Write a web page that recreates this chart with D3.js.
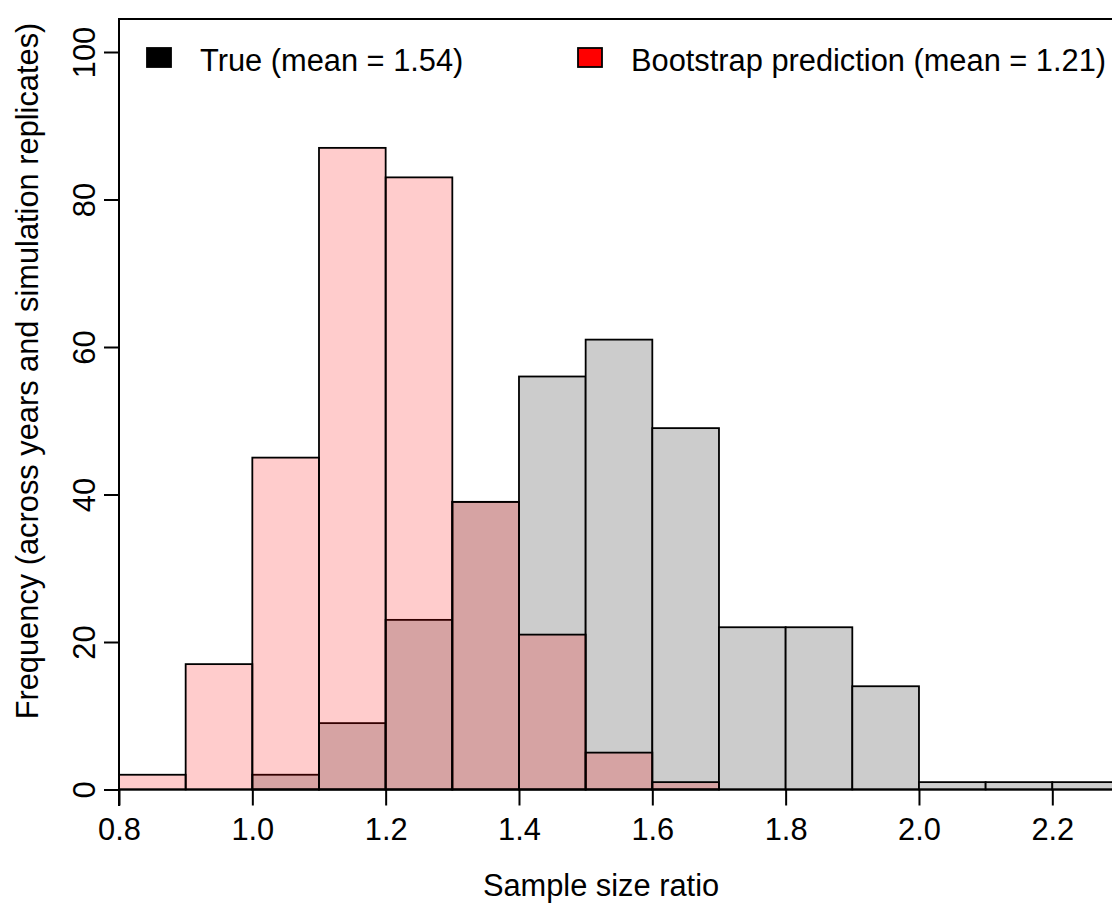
<!DOCTYPE html>
<html>
<head>
<meta charset="utf-8">
<script src="https://cdn.jsdelivr.net/npm/d3@7"></script>
<style>
  body { margin: 0; background: #fff; }
  svg { display: block; font-family: "Liberation Sans", Arial, sans-serif; }
</style>
</head>
<body>
<div id="chart"></div>
<script>
// histogram bins (left edges), width 0.1
const binStarts = [0.8, 0.9, 1.0, 1.1, 1.2, 1.3, 1.4, 1.5, 1.6, 1.7, 1.8, 1.9, 2.0, 2.1, 2.2];
const trueCounts = [0, 0, 2, 9, 23, 39, 56, 61, 49, 22, 22, 14, 1, 1, 1];
const bootCounts = [2, 17, 45, 87, 83, 39, 21, 5, 1, 0, 0, 0, 0, 0, 0];
const binWidth = 0.1;

const xTicks = [0.8, 1.0, 1.2, 1.4, 1.6, 1.8, 2.0, 2.2];
const yTicks = [0, 20, 40, 60, 80, 100];
const legendLabels = ["True (mean = 1.54)", "Bootstrap prediction (mean = 1.21)"];
const legendFills = ["#000000", "#ff0000"];

const width = 1112, height = 905;
const fontSize = 30.8;

const x = d3.scaleLinear().domain([0.8, 2.2]).range([119, 1052.3]);
const y = d3.scaleLinear().domain([0, 100]).range([789.5, 52]);

const svg = d3.select("#chart").append("svg")
    .attr("width", width)
    .attr("height", height);

// true (grey) bars first, bootstrap (transparent red) on top
const trueBins = binStarts.map((b, i) => ({ x0: b, x1: b + binWidth, n: trueCounts[i] })).filter(d => d.n > 0);
const bootBins = binStarts.map((b, i) => ({ x0: b, x1: b + binWidth, n: bootCounts[i] })).filter(d => d.n > 0);

svg.append("g")
    .selectAll("rect")
    .data(trueBins)
    .join("rect")
        .attr("x", d => x(d.x0))
        .attr("y", d => y(d.n))
        .attr("width", d => x(d.x1) - x(d.x0))
        .attr("height", d => y(0) - y(d.n))
        .attr("fill", "#cccccc")
        .attr("stroke", "#000")
        .attr("stroke-width", 1.8);

svg.append("g")
    .selectAll("rect")
    .data(bootBins)
    .join("rect")
        .attr("x", d => x(d.x0))
        .attr("y", d => y(d.n))
        .attr("width", d => x(d.x1) - x(d.x0))
        .attr("height", d => y(0) - y(d.n))
        .attr("fill", "rgba(255,0,0,0.2)")
        .attr("stroke", "#000")
        .attr("stroke-width", 1.8);

// box: top and left sides
svg.append("path")
    .attr("d", `M${x(0.8)},806 V19 H${width + 5}`)
    .attr("fill", "none")
    .attr("stroke", "#000")
    .attr("stroke-width", 2);

// x axis at y = 0
const xAxis = svg.append("g")
    .attr("transform", `translate(0,${y(0)})`)
    .call(d3.axisBottom(x).tickValues(xTicks).tickFormat(d3.format(".1f")).tickSize(16).tickSizeOuter(0));
xAxis.select(".domain").attr("d", `M${x(0.8)},0 H${width + 5}`);
xAxis.selectAll("line, path").attr("stroke", "#000").attr("stroke-width", 2);
xAxis.selectAll("text")
    .attr("font-size", fontSize)
    .attr("font-family", "Liberation Sans, Arial, sans-serif")
    .attr("fill", "#000")
    .attr("y", 50.5)
    .attr("dy", null);

// y axis
const yAxis = svg.append("g")
    .attr("transform", `translate(${x(0.8)},0)`)
    .call(d3.axisLeft(y).tickValues(yTicks).tickSize(15).tickSizeOuter(0));
yAxis.select(".domain").remove();
yAxis.selectAll("line").attr("stroke", "#000").attr("stroke-width", 2);
yAxis.selectAll("text")
    .attr("font-size", fontSize)
    .attr("font-family", "Liberation Sans, Arial, sans-serif")
    .attr("fill", "#000")
    .attr("text-anchor", "middle")
    .attr("x", null)
    .attr("dy", null)
    .attr("transform", "translate(-24,0) rotate(-90)");

// axis titles
svg.append("text")
    .attr("x", 601)
    .attr("y", 896)
    .attr("text-anchor", "middle")
    .attr("font-size", fontSize)
    .text("Sample size ratio");

svg.append("text")
    .attr("transform", "translate(38,371) rotate(-90)")
    .attr("text-anchor", "middle")
    .attr("font-size", fontSize)
    .text("Frequency (across years and simulation replicates)");

// legend
const legendX = [147, 578];
const legend = svg.append("g")
    .selectAll("g")
    .data(legendLabels)
    .join("g")
        .attr("transform", (d, i) => `translate(${legendX[i]},48)`);

legend.append("rect")
    .attr("width", 24)
    .attr("height", 19)
    .attr("fill", (d, i) => legendFills[i])
    .attr("stroke", "#000")
    .attr("stroke-width", 1.8);

legend.append("text")
    .attr("x", 53)
    .attr("y", 22.5)
    .attr("font-size", fontSize)
    .text(d => d);
</script>
</body>
</html>
